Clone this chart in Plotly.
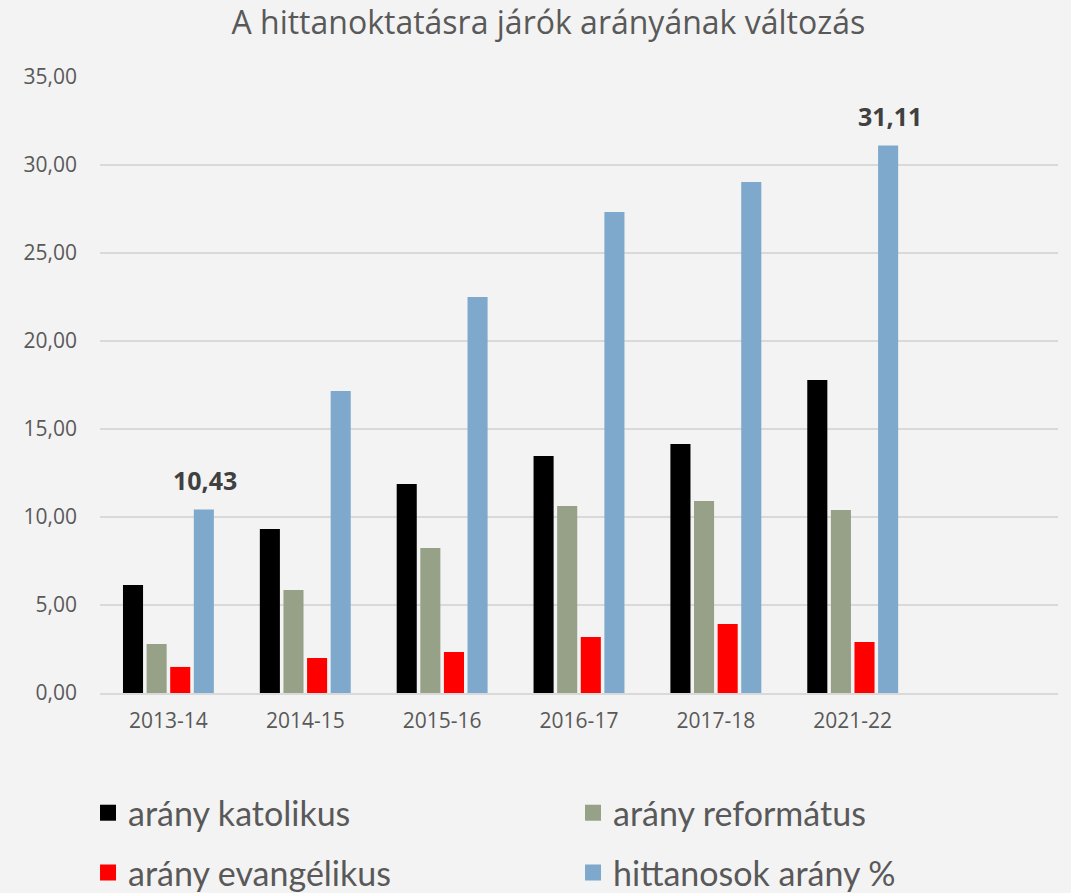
import plotly.graph_objects as go

years = ["2013-14", "2014-15", "2015-16", "2016-17", "2017-18", "2021-22"]
katolikus = [6.14, 9.32, 11.88, 13.47, 14.15, 17.78]
reformatus = [2.78, 5.85, 8.24, 10.63, 10.91, 10.40]
evangelikus = [1.48, 1.99, 2.33, 3.18, 3.92, 2.90]
hittanosok = [10.43, 17.16, 22.50, 27.33, 29.03, 31.11]
labeled = [0, 5]  # which hittanosok bars carry a value label

series = [
    ("arány katolikus", katolikus, "#000000", "legend"),
    ("arány református", reformatus, "#96a188", "legend"),
    ("arány evangélikus", evangelikus, "#ff0000", "legend2"),
    ("hittanosok arány %", hittanosok, "#7ea9cc", "legend2"),
]

fig = go.Figure()
for name, vals, col, leg in series:
    fig.add_trace(go.Bar(
        x=years, y=vals, name=name, marker_color=col,
        marker_line_width=0, showlegend=False,
    ))
    # legend entry with a bigger square
    fig.add_trace(go.Scatter(
        x=[None], y=[None], mode="markers", name=name, legend=leg,
        marker=dict(symbol="square", size=16, color=col),
    ))

for i in labeled:
    fig.add_annotation(
        x=years[i], y=hittanosok[i], xshift=37, yshift=29,
        text=("%.2f" % hittanosok[i]).replace(".", ","), showarrow=False,
        font=dict(family="Open Sans", size=25, color="#404040",
                  weight="bold"),
    )

leg_style = dict(orientation="h", x=-0.0125, xanchor="left",
                 yanchor="middle", entrywidth=440, itemsizing="trace",
                 bgcolor="rgba(0,0,0,0)",
                 font=dict(family="Lato", size=34, color="#595959"))

fig.update_layout(
    width=1071, height=893,
    margin=dict(l=100, r=13, t=77, b=200, autoexpand=False),
    paper_bgcolor="#f3f3f3", plot_bgcolor="rgba(0,0,0,0)",
    separators=", ",
    title=dict(text="A hittanoktatásra járók arányának változás",
               x=0.512, xanchor="center", y=0.975, yanchor="middle",
               font=dict(family="Open Sans", size=32, color="#595959")),
    barmode="group", bargap=0.31, bargroupgap=0.15,
    font=dict(family="Open Sans", color="#595959"),
    legend=dict(leg_style, y=-0.195),
    legend2=dict(leg_style, y=-0.292),
    xaxis=dict(type="category", categoryorder="array", categoryarray=years,
               range=[-0.5, 6.5], showgrid=False, showline=True,
               linecolor="#d9d9d9", linewidth=1.5, ticks="",
               ticklabelstandoff=8,
               tickfont=dict(size=21, color="#595959")),
    yaxis=dict(range=[0, 35], dtick=5, tickformat=".2f",
               gridcolor="#d9d9d9", gridwidth=1.5, zeroline=False,
               showline=False, ticks="", ticklabelstandoff=22,
               tickfont=dict(size=21, color="#595959")),
)

fig.write_html("out.html", config={"displayModeBar": False},
               post_script="document.body.style.margin='0';")
